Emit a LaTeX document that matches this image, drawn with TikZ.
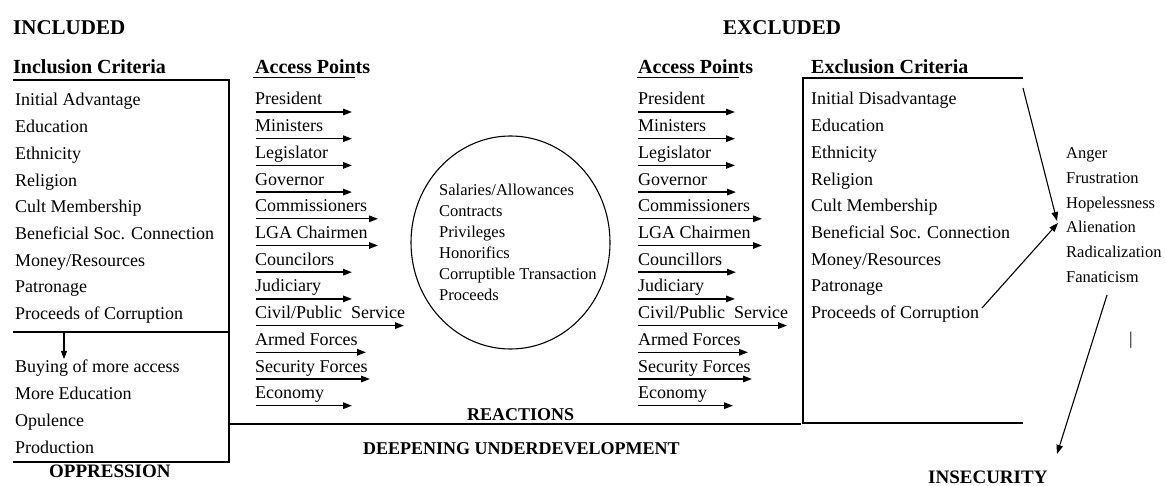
\documentclass[tikz,border=0pt]{standalone}
\usepackage{fontspec}
\setmainfont{Liberation Serif}
\usetikzlibrary{arrows.meta,calc,shapes.geometric}
\begin{document}
\begin{tikzpicture}[x=1pt,y=-1pt,
  item/.style={anchor=base west,inner sep=0pt,font=\fontsize{18}{20}\selectfont},
  hdr/.style={anchor=base west,inner sep=0pt,font=\fontsize{20}{22}\selectfont\bfseries},
  bigtitle/.style={anchor=base west,inner sep=0pt,font=\fontsize{21}{24}\selectfont\bfseries},
  foottitle/.style={anchor=base west,inner sep=0pt,font=\fontsize{19}{22}\selectfont\bfseries},
  smallitem/.style={anchor=base west,inner sep=0pt,font=\fontsize{16.5}{18}\selectfont},
  ln/.style={line width=1.3pt},
  apar/.style={line width=1.4pt,-{Triangle[length=9pt,width=6.5pt]}},
  diag/.style={line width=1.1pt,-{Triangle[length=9pt,width=6.5pt]}}
]
\useasboundingbox (0,0) rectangle (1165,486);

% titles
\node[bigtitle] (included) at (13,35) {INCLUDED};
\node[bigtitle] (excluded) at (723,35) {EXCLUDED};

% left criteria box
\node[hdr] (inchdr) at (13,74) {Inclusion Criteria};
\draw[ln] (13,80) -- (229,80) -- (229,462) -- (13,462);
\draw[ln] (13,332) -- (229,332);
\foreach \t [count=\i from 0] in {Initial Advantage,Education,Ethnicity,Religion,Cult Membership,Beneficial Soc. Connection,Money/Resources,Patronage,Proceeds of Corruption}
  \node[item] (inc\i) at (15,106+26.7*\i) {\t};
\coordinate (dstart) at (64,332);
\draw[line width=1.1pt,-{Triangle[length=8pt,width=6pt]}] (dstart) -- (64,359);
\foreach \t [count=\i from 0] in {Buying of more access,More Education,Opulence,Production}
  \node[item] (res\i) at (15,373+26.7*\i) {\t};
\node[foottitle] (oppression) at (49,477) {OPPRESSION};

% left access points
\node[hdr] (lap) at (255,74) {Access Points};
\draw[line width=1pt] (253,77.5) -- (355,77.5);
\foreach \t/\l [count=\i from 0] in {President/96,Ministers/96,Legislator/96,Governor/96,Commissioners/122,LGA Chairmen/122,Councilors/96,Judiciary/96,Civil\slash Public\ \ Service/148,Armed Forces/110,Security Forces/114,Economy/96}
{
  \node[item] (la\i) at (255,105+26.7*\i) {\t};
  \draw[apar] ($(la\i.base west)+(1,7)$) -- ++(\l,0);
}

% circle
\node[draw,ellipse,line width=1.1pt,minimum width=199pt,minimum height=213pt,inner sep=0pt] (pool) at (510.5,242.5) {};
\foreach \t [count=\i from 0] in {Salaries/Allowances,Contracts,Privileges,Honorifics,Corruptible Transaction,Proceeds}
  \node[smallitem] (pl\i) at (439,195.5+21.1*\i) {\t};

% right access points
\node[hdr] (rap) at (638,74) {Access Points};
\draw[line width=1pt] (637,77.5) -- (739,77.5);
\foreach \t/\l [count=\i from 0] in {President/97,Ministers/97,Legislator/97,Governor/98,Commissioners/124,LGA Chairmen/124,Councillors/98,Judiciary/97,Civil\slash Public\ \ Service/149,Armed Forces/110,Security Forces/114,Economy/95}
{
  \node[item] (ra\i) at (638,105+26.7*\i) {\t};
  \draw[apar] ($(ra\i.base west)+(0,7)$) -- ++(\l,0);
}

% bottom line and labels
\draw[ln] (229,424) -- (801,424);
\node[foottitle,font=\fontsize{18}{20}\selectfont\bfseries] (reactions) at (467,420) {REACTIONS};
\node[foottitle,font=\fontsize{18}{20}\selectfont\bfseries] (deepening) at (363,454) {DEEPENING UNDERDEVELOPMENT};

% right criteria box
\node[hdr] (exchdr) at (811,74) {Exclusion Criteria};
\draw[ln] (1023,78) -- (803,78) -- (803,423) -- (1023,423);
\foreach \t [count=\i from 0] in {Initial Disadvantage,Education,Ethnicity,Religion,Cult Membership,Beneficial Soc. Connection,Money/Resources,Patronage,Proceeds of Corruption}
  \node[item] (exc\i) at (811,105+26.7*\i) {\t};

% reactions list
\foreach \t [count=\i from 0] in {Anger,Frustration,Hopelessness,Alienation,Radicalization,Fanaticism}
  \node[smallitem] (re\i) at (1066,158.5+24.8*\i) {\t};
\node[inner sep=0pt,font=\fontsize{18}{20}\selectfont] (bar) at (1131,340.5) {|};

\coordinate (a1s) at (1023,88);
\coordinate (conv) at (1057,221);
\coordinate (a2s) at (982,308);
\coordinate (a3s) at (1107,295);
\coordinate (a3e) at (1057,454);
\draw[diag] (a1s) -- (conv);
\draw[diag] (a2s) -- (1058,223);
\draw[diag] (a3s) -- (a3e);
\node[foottitle] (insecurity) at (928,483) {INSECURITY};
\end{tikzpicture}
\end{document}
